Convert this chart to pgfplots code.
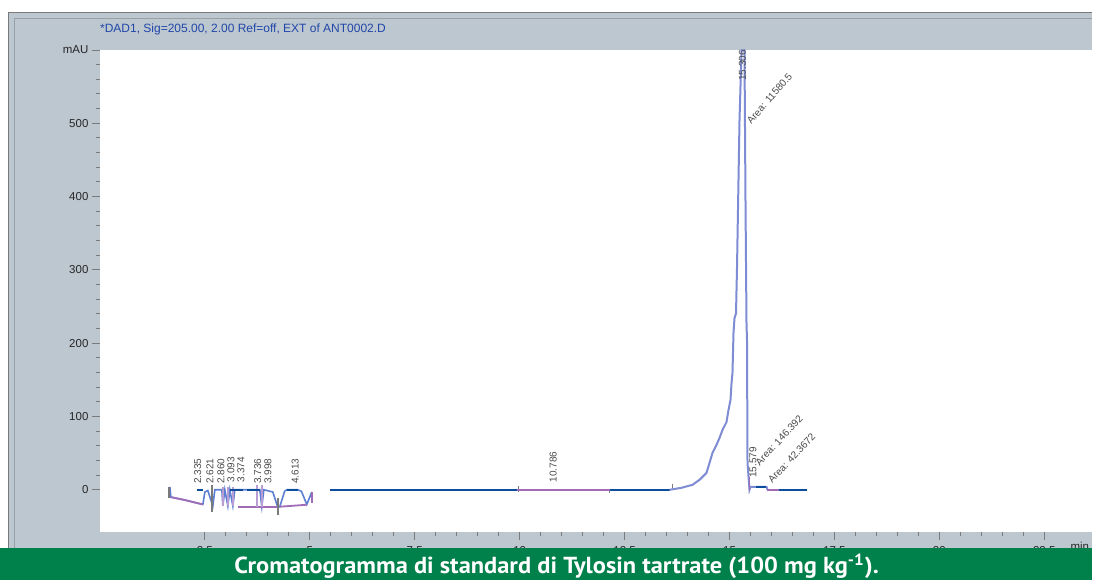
\documentclass[border=0pt]{standalone}
\usepackage{pgfplots}
\pgfplotsset{compat=1.18}
\usepackage{fontspec}
\setmainfont{Liberation Sans}
\newfontfamily\capfont{PT Sans}
\definecolor{bgc}{HTML}{BDC7D0}
\definecolor{frm}{HTML}{7A7A7A}
\definecolor{frm2}{HTML}{9A9FA6}
\definecolor{ttl}{HTML}{2147A8}
\definecolor{dblue}{HTML}{0D4D9D}
\definecolor{mblue}{HTML}{5C7FD2}
\definecolor{pk}{HTML}{7E8CD4}
\definecolor{purp}{HTML}{A06CB8}
\definecolor{lav}{HTML}{B89ED4}
\definecolor{lbl}{HTML}{4A4A4A}
\definecolor{grn}{HTML}{00804A}
\begin{document}
\begin{tikzpicture}[x=1pt,y=1pt]
\fill[white] (0,0) rectangle (1093,580);
\fill[bgc] (8,32) rectangle (1093,568);
\draw[frm, line width=1.5pt] (8.5,32) -- (8.5,567.5) -- (1093,567.5);
\draw[frm2, line width=1pt] (15,32) -- (15,561) -- (1093,561);
\node[anchor=west, text=ttl, font=\fontsize{12}{13}\selectfont, inner sep=0] at (100,551) {*DAD1, Sig=205.00, 2.00 Ref=off, EXT of ANT0002.D};
\begin{axis}[at={(100pt,48pt)}, anchor=south west, width=993pt, height=482pt, scale only axis,
  xmin=0, xmax=23.643, ymin=-57.1, ymax=600,
  axis background/.style={fill=white},
  axis line style={draw=none},
  clip mode=individual,
  tick align=outside,
  xtick pos=bottom, ytick pos=left,
  major tick length=8pt, minor tick length=4pt,
  tick style={color=frm, line width=0.9pt},
  ytick={0,100,200,300,400,500,600},
  yticklabels={0,100,200,300,400,500,mAU},
  minor y tick num=4,
  xtick={2.5,5,7.5,10,12.5,15,17.5,20,22.5},
  xticklabels={2.5,5,7.5,10,12.5,15,17.5,20,22.5},
  minor x tick num=4,
  ticklabel style={font=\fontsize{11.5}{12}\selectfont, text=black!85},
  xticklabel style={yshift=-3pt},
]
% early region signal
\addplot[mblue, line width=1.6pt] coordinates {
(1.667,4) (1.690,-10) (2.024,-14) (2.452,-20) (2.50,-3) (2.57,-1) (2.69,-22) (2.738,0) (2.905,0) (2.929,-22) (2.976,0) (3.048,-22) (3.095,0) (3.167,-22) (3.214,0) (3.81,0) (3.857,-23) (3.905,0) (4.119,-3) (4.238,-24) (4.286,-23) (4.40,-2) (4.452,0) (4.714,0) (4.80,-2) (4.929,-20) (5.048,-3)
};
\addplot[purp, line width=1.8pt] coordinates {(1.690,-10) (2.024,-14) (2.452,-20)};
\addplot[purp, line width=1.8pt] coordinates {(3.286,-23.1) (4.214,-23.1)};
\addplot[purp, line width=1.8pt] coordinates {(4.286,-23.1) (4.929,-20.4)};
\addplot[purp, line width=1.8pt] coordinates {(5.048,-3) (5.048,-18)};
\addplot[lav, line width=1.8pt] coordinates {(2.929,4) (2.929,-22)};
\addplot[lav, line width=1.8pt] coordinates {(3.048,4) (3.048,-22)};
\addplot[lav, line width=1.8pt] coordinates {(3.167,4) (3.167,-22)};
\addplot[lav, line width=1.8pt] coordinates {(3.74,6) (3.74,-24)};
\addplot[lav, line width=1.8pt] coordinates {(3.86,6) (3.86,-24)};
\addplot[dblue, line width=2.4pt] coordinates {(2.31,0) (2.45,0)};
\addplot[dblue, line width=2.4pt] coordinates {(3.10,0) (3.40,0)};
\addplot[dblue, line width=2.4pt] coordinates {(3.50,0) (3.81,0)};
\addplot[dblue, line width=2.4pt] coordinates {(4.45,0) (4.71,0)};
% peak markers
\addplot[frm, line width=1.4pt] coordinates {(1.643,4) (1.643,-11)};
\addplot[frm, line width=1.4pt] coordinates {(2.667,7) (2.667,-30)};
\addplot[frm, line width=1.4pt] coordinates {(4.238,-11) (4.238,-34)};
\addplot[frm, line width=1.4pt] coordinates {(9.976,5) (9.976,-3)};
\addplot[frm, line width=1.4pt] coordinates {(12.143,0) (12.143,-5)};
\addplot[frm, line width=1.4pt] coordinates {(13.643,8) (13.643,3)};
% main baseline
\addplot[dblue, line width=2.4pt] coordinates {(5.476,0) (13.571,0)};
\addplot[purp, line width=2.2pt] coordinates {(9.929,0) (12.143,0)};
% main peak
\addplot[pk, line width=2pt] coordinates {
(13.571,0) (13.857,2.7) (14.119,6.8) (14.286,13.6) (14.452,23.1) (14.524,36.7) (14.595,50.3) (14.690,61.2) (14.762,70.7) (14.833,81.6) (14.929,92.5) (14.976,108.8) (15.024,122.4) (15.048,145.6) (15.071,159.2) (15.095,213.6) (15.119,234) (15.155,240.8) (15.179,303.4) (15.202,381) (15.238,503) (15.286,598) (15.310,680) (15.357,598) (15.381,395) (15.405,227) (15.417,204) (15.429,37) (15.476,0) (15.5,4) (15.881,4) (15.905,0)
};
\addplot[purp, line width=1.8pt] coordinates {(15.476,18) (15.476,0)};
\addplot[dblue, line width=2.4pt] coordinates {(15.62,4) (15.881,4)};
\addplot[purp, line width=2.2pt] coordinates {(15.905,0) (16.19,0)};
\addplot[dblue, line width=2.4pt] coordinates {(16.19,0) (16.857,0)};
% labels
\begin{scope}[every node/.style={text=lbl, font=\fontsize{10}{10}\selectfont, inner sep=0}]
\node[rotate=90, anchor=west] at (axis cs:2.33,8) {2.335};
\node[rotate=90, anchor=west] at (axis cs:2.62,8) {2.621};
\node[rotate=90, anchor=west] at (axis cs:2.88,8) {2.860};
\node[rotate=90, anchor=west] at (axis cs:3.12,10) {3.093};
\node[rotate=90, anchor=west] at (axis cs:3.36,10) {3.374};
\node[rotate=90, anchor=west] at (axis cs:3.76,8) {3.736};
\node[rotate=90, anchor=west] at (axis cs:4.00,8) {3.998};
\node[rotate=90, anchor=west] at (axis cs:4.65,8) {4.613};
\node[rotate=90, anchor=west] at (axis cs:10.80,10) {10.786};
\node[rotate=90, anchor=east] at (axis cs:15.31,600) {15.306};
\node[rotate=49, anchor=base west] at (axis cs:15.52,498) {Area: 11580.5};
\node[rotate=90, anchor=west] at (axis cs:15.56,16) {15.579};
\node[rotate=47, anchor=base west] at (axis cs:15.72,32) {Area: 146.392};
\node[rotate=47, anchor=base west] at (axis cs:16.02,8) {Area: 42.3672};
\end{scope}
\end{axis}
\node[anchor=east, text=black!85, font=\fontsize{11.5}{12}\selectfont, inner sep=0] at (1090,33) {min};
\fill[grn] (0,0) rectangle (1093,32);
\node[anchor=base, text=white, inner sep=0] at (557,6) {\resizebox{645pt}{20pt}{\capfont\bfseries Cromatogramma di standard di Tylosin tartrate (100 mg kg\textsuperscript{-1}).}};
\end{tikzpicture}
\end{document}
